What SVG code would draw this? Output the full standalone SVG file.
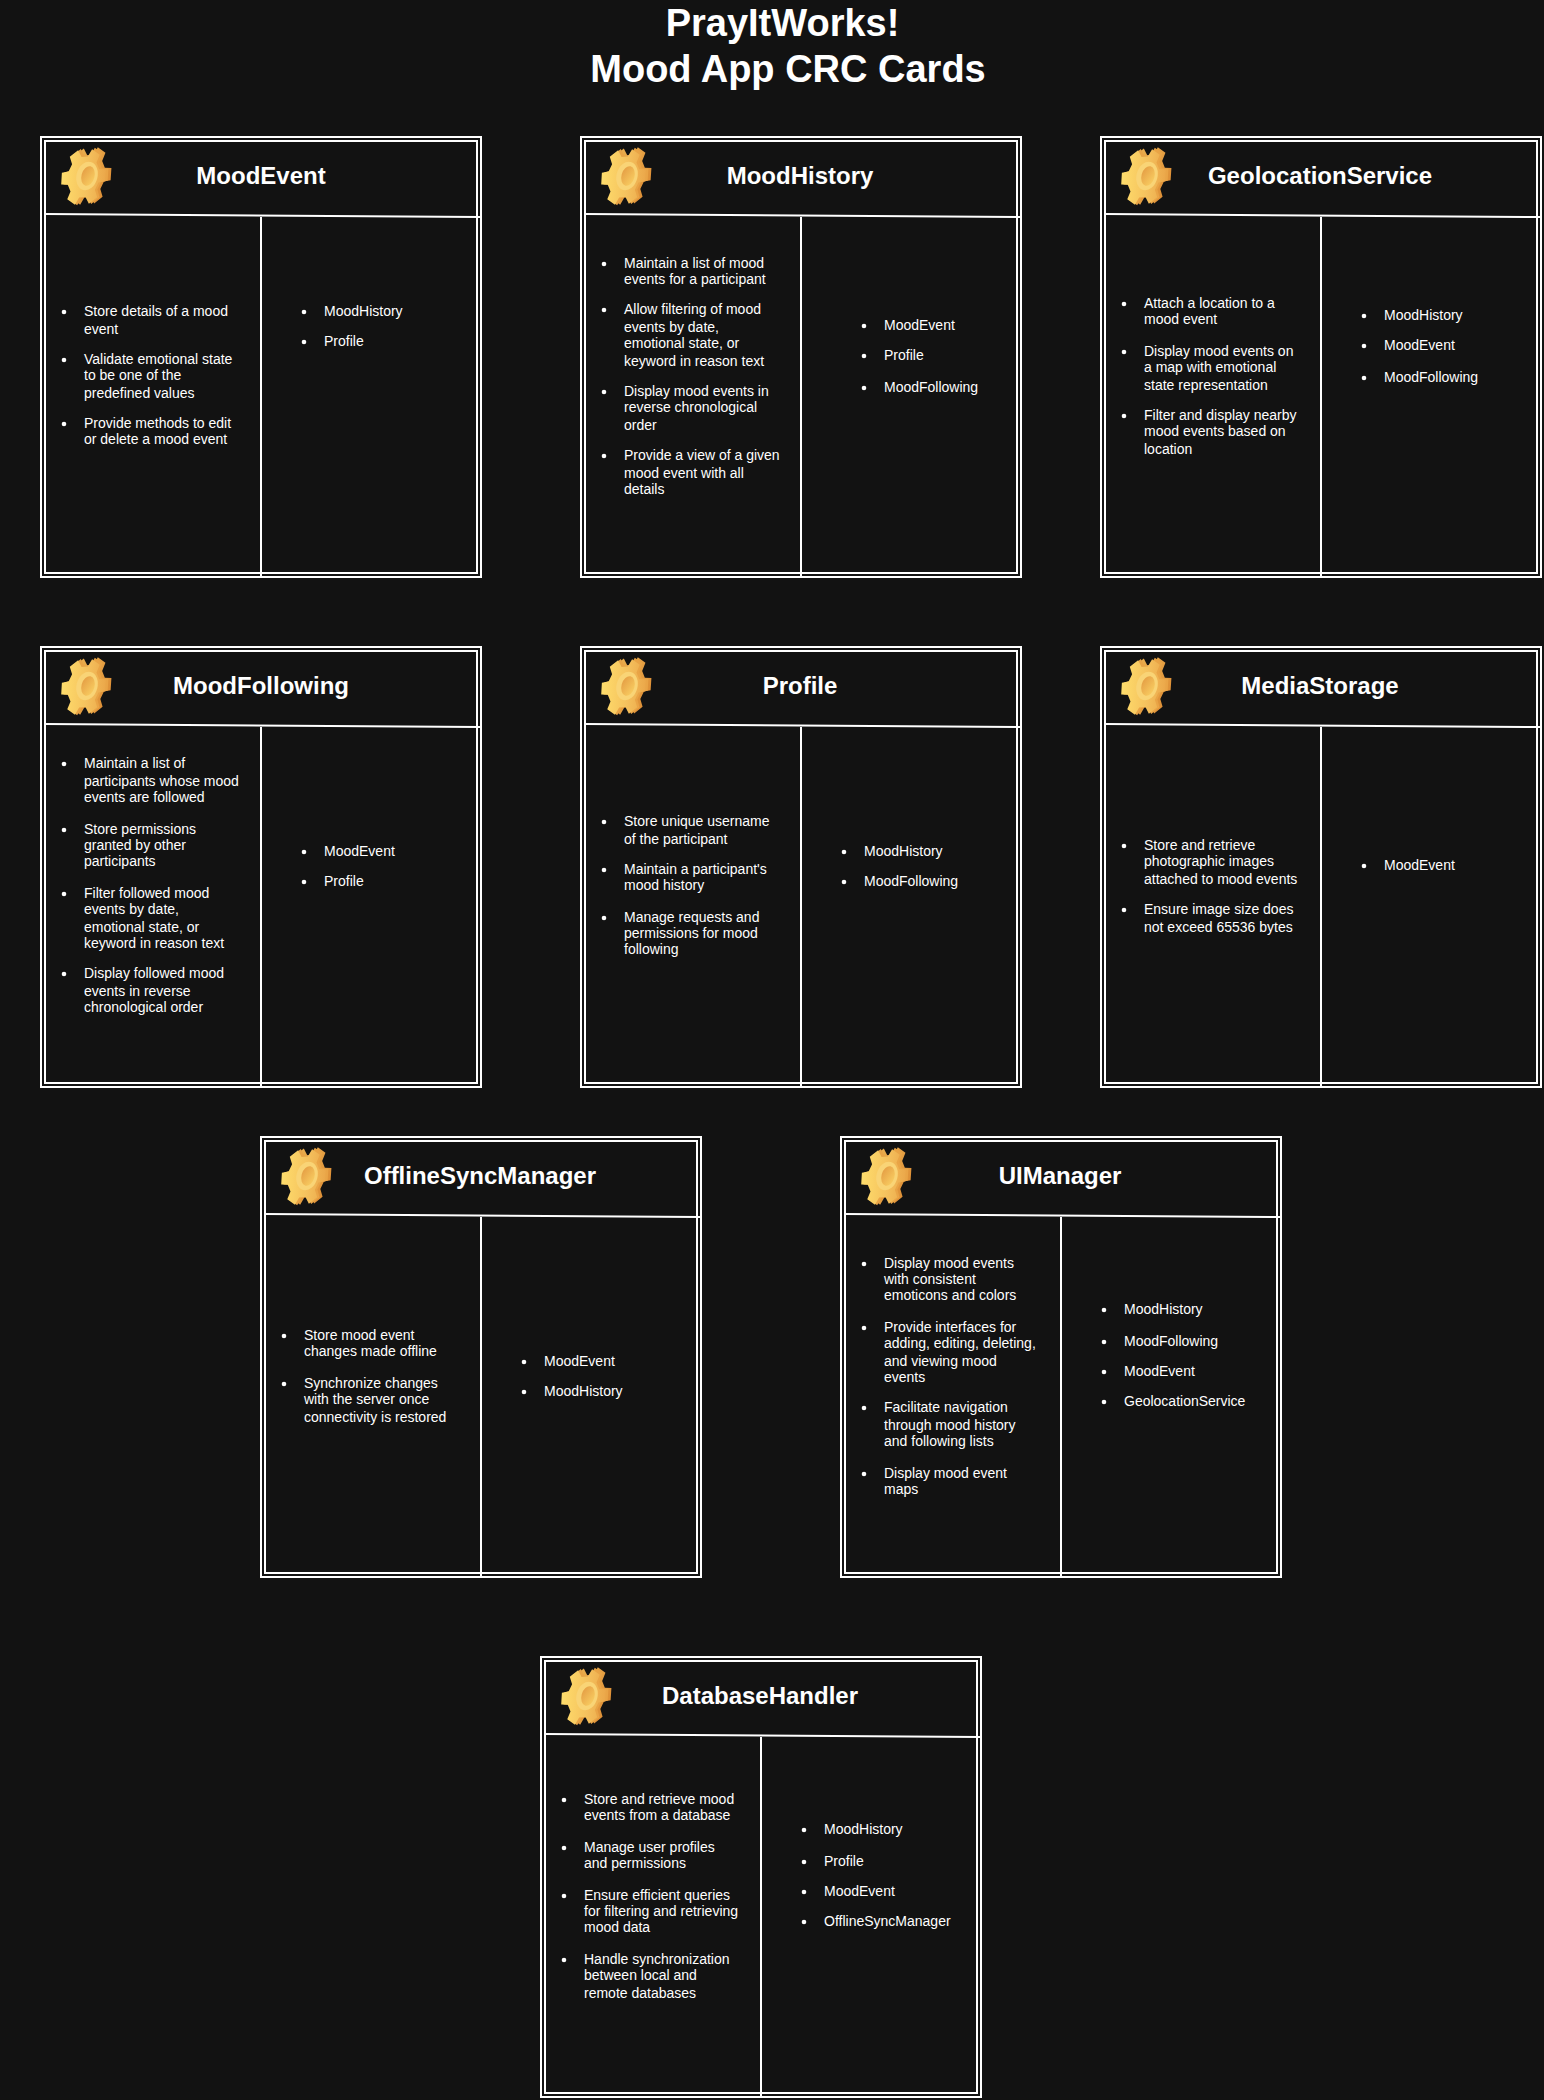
<svg xmlns="http://www.w3.org/2000/svg" width="1544" height="2100" viewBox="0 0 1544 2100">
<style>
text{font-family:"Liberation Sans",Arial,sans-serif;fill:#fff}
.main{font-size:38px;font-weight:700;text-anchor:middle}
.name{font-size:24px;font-weight:700;text-anchor:middle}
.t{font-size:14px}
.ln{fill:none;stroke:#fff;stroke-width:2}
.b{fill:#fff}
</style>
<defs>
<linearGradient id="gBack" x1="0" y1="0" x2="1" y2="0.3"><stop offset="0" stop-color="#edb452"/><stop offset="1" stop-color="#df9239"/></linearGradient>
<linearGradient id="gFace" x1="0" y1="0.6" x2="1" y2="0.3"><stop offset="0" stop-color="#ffde6c"/><stop offset="0.55" stop-color="#f5c25e"/><stop offset="1" stop-color="#eaa548"/></linearGradient>
<linearGradient id="gHole" x1="0" y1="0" x2="1" y2="0.6"><stop offset="0" stop-color="#e39a42"/><stop offset="1" stop-color="#f7c95f"/></linearGradient>
<path id="cog" d="M-5,-72L5,-100L45,-89L40,-60L60,-40L89,-45L100,-5L72,5L65,32L84,55L55,84L32,65L5,72L-5,100L-45,89L-40,60L-60,40L-89,45L-100,5L-72,-5L-65,-32L-84,-55L-55,-84L-32,-65Z"/>
<g id="gear">
<use href="#cog" transform="translate(49,40) rotate(15) scale(.22,.3)" fill="url(#gBack)"/>
<use href="#cog" transform="translate(46,40.5) rotate(15) scale(.22,.3)" fill="#e9a446"/>
<use href="#cog" transform="translate(43.5,41) rotate(15) scale(.22,.29)" fill="url(#gFace)"/>
<ellipse cx="47" cy="40" rx="10.5" ry="14.5" transform="rotate(15 47 40)" fill="#f9d476"/>
<ellipse cx="48" cy="40" rx="6.5" ry="10" transform="rotate(15 48 40)" fill="url(#gHole)"/>
</g>
<g id="frame">
<rect class="ln" x="1" y="1" width="440" height="440"/>
<rect class="ln" x="5" y="5" width="432" height="432"/>
<path class="ln" d="M5,78L440,81M221,81V440"/>
<use href="#gear"/>
</g>
</defs>
<rect width="1544" height="2100" fill="#121212"/>
<g id="title">
<text class="main" x="782.5" y="36">PrayItWorks!</text>
<text class="main" x="788" y="82">Mood App CRC Cards</text>
</g>
<g id="MoodEvent">
<use href="#frame" x="40" y="136"/>
<text class="name" x="261" y="184">MoodEvent</text>
<circle class="b" cx="64" cy="312" r="2.3"/><circle class="b" cx="64" cy="360" r="2.3"/><circle class="b" cx="64" cy="424" r="2.3"/>
<text class="t" x="84" y="316">Store details of a mood</text>
<text class="t" x="84" y="334">event</text>
<text class="t" x="84" y="364">Validate emotional state</text>
<text class="t" x="84" y="380">to be one of the</text>
<text class="t" x="84" y="398">predefined values</text>
<text class="t" x="84" y="428">Provide methods to edit</text>
<text class="t" x="84" y="444">or delete a mood event</text>
<circle class="b" cx="304" cy="312" r="2.3"/><circle class="b" cx="304" cy="342" r="2.3"/>
<text class="t" x="324" y="316">MoodHistory</text>
<text class="t" x="324" y="346">Profile</text>
</g>
<g id="MoodHistory">
<use href="#frame" x="580" y="136"/>
<text class="name" x="800" y="184">MoodHistory</text>
<circle class="b" cx="604" cy="264" r="2.3"/><circle class="b" cx="604" cy="310" r="2.3"/><circle class="b" cx="604" cy="392" r="2.3"/><circle class="b" cx="604" cy="456" r="2.3"/>
<text class="t" x="624" y="268">Maintain a list of mood</text>
<text class="t" x="624" y="284">events for a participant</text>
<text class="t" x="624" y="314">Allow filtering of mood</text>
<text class="t" x="624" y="332">events by date,</text>
<text class="t" x="624" y="348">emotional state, or</text>
<text class="t" x="624" y="366">keyword in reason text</text>
<text class="t" x="624" y="396">Display mood events in</text>
<text class="t" x="624" y="412">reverse chronological</text>
<text class="t" x="624" y="430">order</text>
<text class="t" x="624" y="460">Provide a view of a given</text>
<text class="t" x="624" y="478">mood event with all</text>
<text class="t" x="624" y="494">details</text>
<circle class="b" cx="864" cy="326" r="2.3"/><circle class="b" cx="864" cy="356" r="2.3"/><circle class="b" cx="864" cy="388" r="2.3"/>
<text class="t" x="884" y="330">MoodEvent</text>
<text class="t" x="884" y="360">Profile</text>
<text class="t" x="884" y="392">MoodFollowing</text>
</g>
<g id="GeolocationService">
<use href="#frame" x="1100" y="136"/>
<text class="name" x="1320" y="184">GeolocationService</text>
<circle class="b" cx="1124" cy="304" r="2.3"/><circle class="b" cx="1124" cy="352" r="2.3"/><circle class="b" cx="1124" cy="416" r="2.3"/>
<text class="t" x="1144" y="308">Attach a location to a</text>
<text class="t" x="1144" y="324">mood event</text>
<text class="t" x="1144" y="356">Display mood events on</text>
<text class="t" x="1144" y="372">a map with emotional</text>
<text class="t" x="1144" y="390">state representation</text>
<text class="t" x="1144" y="420">Filter and display nearby</text>
<text class="t" x="1144" y="436">mood events based on</text>
<text class="t" x="1144" y="454">location</text>
<circle class="b" cx="1364" cy="316" r="2.3"/><circle class="b" cx="1364" cy="346" r="2.3"/><circle class="b" cx="1364" cy="378" r="2.3"/>
<text class="t" x="1384" y="320">MoodHistory</text>
<text class="t" x="1384" y="350">MoodEvent</text>
<text class="t" x="1384" y="382">MoodFollowing</text>
</g>
<g id="MoodFollowing">
<use href="#frame" x="40" y="646"/>
<text class="name" x="261" y="694">MoodFollowing</text>
<circle class="b" cx="64" cy="764" r="2.3"/><circle class="b" cx="64" cy="830" r="2.3"/><circle class="b" cx="64" cy="894" r="2.3"/><circle class="b" cx="64" cy="974" r="2.3"/>
<text class="t" x="84" y="768">Maintain a list of</text>
<text class="t" x="84" y="786">participants whose mood</text>
<text class="t" x="84" y="802">events are followed</text>
<text class="t" x="84" y="834">Store permissions</text>
<text class="t" x="84" y="850">granted by other</text>
<text class="t" x="84" y="866">participants</text>
<text class="t" x="84" y="898">Filter followed mood</text>
<text class="t" x="84" y="914">events by date,</text>
<text class="t" x="84" y="932">emotional state, or</text>
<text class="t" x="84" y="948">keyword in reason text</text>
<text class="t" x="84" y="978">Display followed mood</text>
<text class="t" x="84" y="996">events in reverse</text>
<text class="t" x="84" y="1012">chronological order</text>
<circle class="b" cx="304" cy="852" r="2.3"/><circle class="b" cx="304" cy="882" r="2.3"/>
<text class="t" x="324" y="856">MoodEvent</text>
<text class="t" x="324" y="886">Profile</text>
</g>
<g id="Profile">
<use href="#frame" x="580" y="646"/>
<text class="name" x="800" y="694">Profile</text>
<circle class="b" cx="604" cy="822" r="2.3"/><circle class="b" cx="604" cy="870" r="2.3"/><circle class="b" cx="604" cy="918" r="2.3"/>
<text class="t" x="624" y="826">Store unique username</text>
<text class="t" x="624" y="844">of the participant</text>
<text class="t" x="624" y="874">Maintain a participant's</text>
<text class="t" x="624" y="890">mood history</text>
<text class="t" x="624" y="922">Manage requests and</text>
<text class="t" x="624" y="938">permissions for mood</text>
<text class="t" x="624" y="954">following</text>
<circle class="b" cx="844" cy="852" r="2.3"/><circle class="b" cx="844" cy="882" r="2.3"/>
<text class="t" x="864" y="856">MoodHistory</text>
<text class="t" x="864" y="886">MoodFollowing</text>
</g>
<g id="MediaStorage">
<use href="#frame" x="1100" y="646"/>
<text class="name" x="1320" y="694">MediaStorage</text>
<circle class="b" cx="1124" cy="846" r="2.3"/><circle class="b" cx="1124" cy="910" r="2.3"/>
<text class="t" x="1144" y="850">Store and retrieve</text>
<text class="t" x="1144" y="866">photographic images</text>
<text class="t" x="1144" y="884">attached to mood events</text>
<text class="t" x="1144" y="914">Ensure image size does</text>
<text class="t" x="1144" y="932">not exceed 65536 bytes</text>
<circle class="b" cx="1364" cy="866" r="2.3"/>
<text class="t" x="1384" y="870">MoodEvent</text>
</g>
<g id="OfflineSyncManager">
<use href="#frame" x="260" y="1136"/>
<text class="name" x="480" y="1184">OfflineSyncManager</text>
<circle class="b" cx="284" cy="1336" r="2.3"/><circle class="b" cx="284" cy="1384" r="2.3"/>
<text class="t" x="304" y="1340">Store mood event</text>
<text class="t" x="304" y="1356">changes made offline</text>
<text class="t" x="304" y="1388">Synchronize changes</text>
<text class="t" x="304" y="1404">with the server once</text>
<text class="t" x="304" y="1422">connectivity is restored</text>
<circle class="b" cx="524" cy="1362" r="2.3"/><circle class="b" cx="524" cy="1392" r="2.3"/>
<text class="t" x="544" y="1366">MoodEvent</text>
<text class="t" x="544" y="1396">MoodHistory</text>
</g>
<g id="UIManager">
<use href="#frame" x="840" y="1136"/>
<text class="name" x="1060" y="1184">UIManager</text>
<circle class="b" cx="864" cy="1264" r="2.3"/><circle class="b" cx="864" cy="1328" r="2.3"/><circle class="b" cx="864" cy="1408" r="2.3"/><circle class="b" cx="864" cy="1474" r="2.3"/>
<text class="t" x="884" y="1268">Display mood events</text>
<text class="t" x="884" y="1284">with consistent</text>
<text class="t" x="884" y="1300">emoticons and colors</text>
<text class="t" x="884" y="1332">Provide interfaces for</text>
<text class="t" x="884" y="1348">adding, editing, deleting,</text>
<text class="t" x="884" y="1366">and viewing mood</text>
<text class="t" x="884" y="1382">events</text>
<text class="t" x="884" y="1412">Facilitate navigation</text>
<text class="t" x="884" y="1430">through mood history</text>
<text class="t" x="884" y="1446">and following lists</text>
<text class="t" x="884" y="1478">Display mood event</text>
<text class="t" x="884" y="1494">maps</text>
<circle class="b" cx="1104" cy="1310" r="2.3"/><circle class="b" cx="1104" cy="1342" r="2.3"/><circle class="b" cx="1104" cy="1372" r="2.3"/><circle class="b" cx="1104" cy="1402" r="2.3"/>
<text class="t" x="1124" y="1314">MoodHistory</text>
<text class="t" x="1124" y="1346">MoodFollowing</text>
<text class="t" x="1124" y="1376">MoodEvent</text>
<text class="t" x="1124" y="1406">GeolocationService</text>
</g>
<g id="DatabaseHandler">
<use href="#frame" x="540" y="1656"/>
<text class="name" x="760" y="1704">DatabaseHandler</text>
<circle class="b" cx="564" cy="1800" r="2.3"/><circle class="b" cx="564" cy="1848" r="2.3"/><circle class="b" cx="564" cy="1896" r="2.3"/><circle class="b" cx="564" cy="1960" r="2.3"/>
<text class="t" x="584" y="1804">Store and retrieve mood</text>
<text class="t" x="584" y="1820">events from a database</text>
<text class="t" x="584" y="1852">Manage user profiles</text>
<text class="t" x="584" y="1868">and permissions</text>
<text class="t" x="584" y="1900">Ensure efficient queries</text>
<text class="t" x="584" y="1916">for filtering and retrieving</text>
<text class="t" x="584" y="1932">mood data</text>
<text class="t" x="584" y="1964">Handle synchronization</text>
<text class="t" x="584" y="1980">between local and</text>
<text class="t" x="584" y="1998">remote databases</text>
<circle class="b" cx="804" cy="1830" r="2.3"/><circle class="b" cx="804" cy="1862" r="2.3"/><circle class="b" cx="804" cy="1892" r="2.3"/><circle class="b" cx="804" cy="1922" r="2.3"/>
<text class="t" x="824" y="1834">MoodHistory</text>
<text class="t" x="824" y="1866">Profile</text>
<text class="t" x="824" y="1896">MoodEvent</text>
<text class="t" x="824" y="1926">OfflineSyncManager</text>
</g>
</svg>
